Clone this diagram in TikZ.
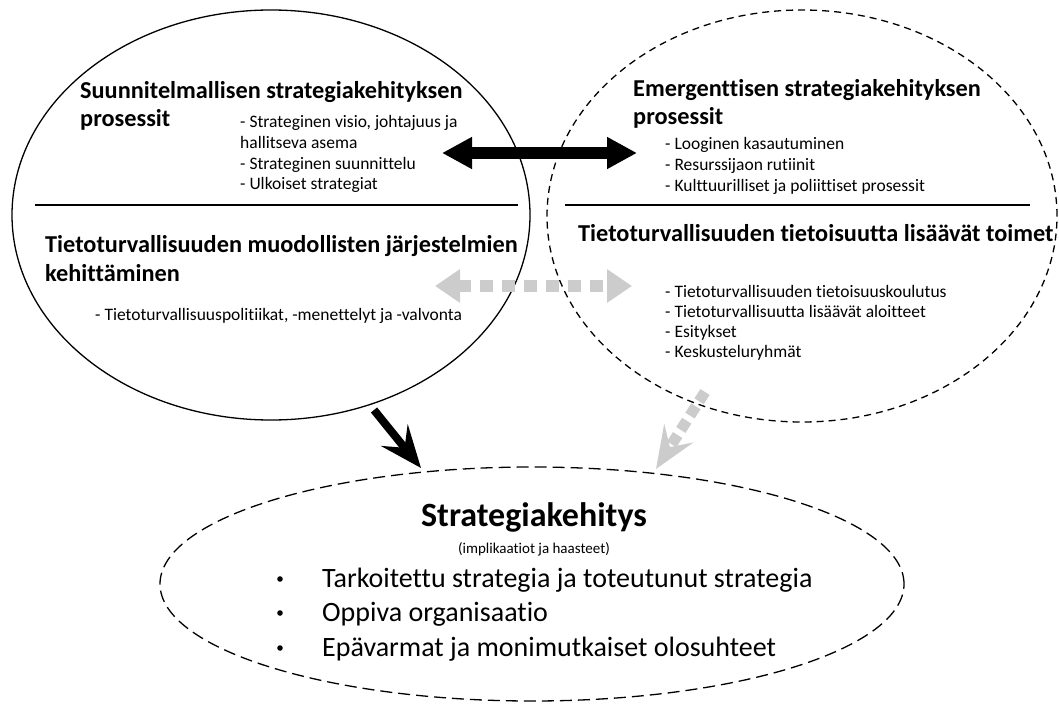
\documentclass[tikz,border=0pt]{standalone}
\usepackage{fontspec}
\setmainfont{Carlito}[Ligatures=NoCommon]
\usetikzlibrary{arrows.meta,shapes.geometric}
\definecolor{lightgrey}{HTML}{CCCCCC}
\begin{document}
\begin{tikzpicture}[x=1pt,y=-1pt,
  head/.style={font=\bfseries\fontsize{24.3}{28}\selectfont, anchor=base west, inner sep=0},
  item/.style={font=\fontsize{17.5}{20}\selectfont, anchor=base west, inner sep=0},
  bigitem/.style={font=\fontsize{28}{32}\selectfont, anchor=base west, inner sep=0},
  oval/.style={ellipse, draw, line width=1.3pt, inner sep=0},
  bigarrow/.style={line width=12pt, {Triangle[length=30pt,width=30pt]}-{Triangle[length=30pt,width=30pt]}},
  greyarrow/.style={lightgrey, line width=12pt, dash pattern=on 13pt off 9pt, {Triangle[length=25pt,width=32pt]}-{Triangle[length=25pt,width=32pt]}}
]
\useasboundingbox (0,0) rectangle (1059,709);

% the three process areas
\node[oval, minimum width=518pt, minimum height=410pt] (L) at (271,215) {};
\node[oval, dash pattern=on 7pt off 5pt, minimum width=510pt, minimum height=412pt] (R) at (802,216) {};
\node[oval, dash pattern=on 12pt off 6pt, minimum width=744pt, minimum height=234pt] (B) at (532,584) {};

% dividers inside the upper areas
\draw[line width=1.6pt] (35,205) -- (518,205);
\draw[line width=1.6pt] (565,205) -- (1030,205);

% left area texts
\node[head] (l1) at (80,98) {Suunnitelmallisen strategiakehityksen};
\node[head] (l2) at (80,126) {prosessit};
\node[item] (l3) at (240,127) {- Strateginen visio, johtajuus ja};
\node[item] (l4) at (240,148) {hallitseva asema};
\node[item] (l5) at (240,169) {- Strateginen suunnittelu};
\node[item] (l6) at (240,189) {- Ulkoiset strategiat};
\node[head] (l7) at (45,252) {Tietoturvallisuuden muodollisten järjestelmien};
\node[head] (l8) at (45,281) {kehittäminen};
\node[item] (l9) at (95,320) {- Tietoturvallisuuspolitiikat, -menettelyt ja -valvonta};

% right area texts
\node[head] (r1) at (633,96) {Emergenttisen strategiakehityksen};
\node[head] (r2) at (633,124) {prosessit};
\node[item] (r3) at (665,149) {- Looginen kasautuminen};
\node[item] (r4) at (665,170) {- Resurssijaon rutiinit};
\node[item] (r5) at (665,191) {- Kulttuurilliset ja poliittiset prosessit};
\node[head] (r6) at (578,241) {Tietoturvallisuuden tietoisuutta lisäävät toimet};
\node[item] (r7) at (665,297) {- Tietoturvallisuuden tietoisuuskoulutus};
\node[item] (r8) at (665,317) {- Tietoturvallisuutta lisäävät aloitteet};
\node[item] (r9) at (665,337) {- Esitykset};
\node[item] (r10) at (665,357) {- Keskusteluryhmät};

% bottom area texts
\node[font=\bfseries\fontsize{34}{38}\selectfont, anchor=base, inner sep=0] (b1) at (534,526) {Strategiakehitys};
\node[font=\fontsize{15}{17}\selectfont, anchor=base, inner sep=0] (b2) at (534,553) {(implikaatiot ja haasteet)};
\node[bigitem] (b3) at (322,587) {Tarkoitettu strategia ja toteutunut strategia};
\node[bigitem] (b4) at (322,621) {Oppiva organisaatio};
\node[bigitem] (b5) at (322,656) {Epävarmat ja monimutkaiset olosuhteet};
\foreach \y in {587,621,656} \fill (280,\y-8) circle (2.8pt);

% connectors between the areas
\coordinate (la) at (442,153);
\coordinate (ra) at (637,153);
\draw[bigarrow] (la) -- (ra);
\coordinate (lg) at (435,286);
\coordinate (rg) at (632,286);
\draw[greyarrow] (lg) -- (rg);
\coordinate (ld) at (374,410);
\coordinate (lt) at (421,468);
\draw[line width=8pt, -{Stealth[length=42pt,width=34pt,inset=16pt]}] (ld) -- (lt);
\coordinate (rd) at (705,392);
\coordinate (rt) at (656,469);
\draw[lightgrey, line width=11pt, dash pattern=on 11pt off 6pt, -{Stealth[length=42pt,width=34pt,inset=16pt]}] (rd) -- (rt);
\end{tikzpicture}
\end{document}
